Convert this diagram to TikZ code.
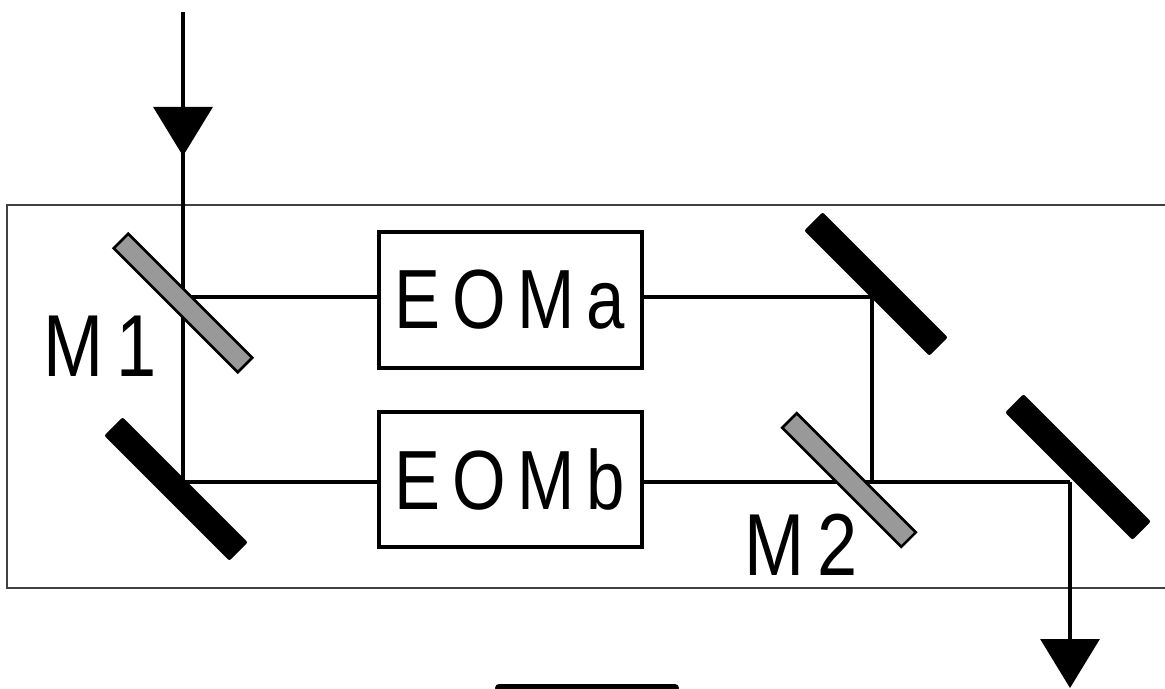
\documentclass[tikz,border=0pt]{standalone}
\usepackage{fontspec}
\newfontfamily\eomfont[FakeStretch=0.82,LetterSpace=14]{Liberation Sans}
\usetikzlibrary{arrows.meta,positioning,decorations.markings}
\definecolor{mirrorgray}{RGB}{153,153,153}
\tikzstyle{beam}=[line width=1.6pt]
\tikzstyle{frame}=[line width=0.8pt,draw=black!75]
\tikzstyle{head}=[-{Triangle[width=29.5pt,length=24.5pt]}]
\tikzstyle{eom}=[draw,line width=2pt,minimum width=131.5pt,minimum height=67.5pt,inner sep=0pt,
  font=\eomfont\fontsize{42pt}{42pt}\selectfont]
\tikzstyle{lbl}=[inner sep=0pt,font=\eomfont\fontsize{44pt}{44pt}\selectfont]
\tikzstyle{splitter}=[draw,line width=1.3pt,fill=mirrorgray,minimum width=87.7pt,minimum height=10.2pt,
  inner sep=0pt,rotate=-45]
\tikzstyle{mirror}=[fill=black,rounded corners=1pt,minimum width=88.5pt,minimum height=13pt,
  inner sep=0pt,rotate=-45]

\begin{document}
\begin{tikzpicture}[x=0.5pt,y=-0.5pt]
    \useasboundingbox (0,0) rectangle (1165,689);
    \draw[frame] (7,205) rectangle (1180,588);

    % beam corners
    \coordinate (in) at (183,12);
    \coordinate (s1) at (183,297);
    \coordinate (c1) at (183,482);
    \coordinate (c2) at (872,297);
    \coordinate (s2) at (872,482);
    \coordinate (c3) at (1070,482);
    \coordinate (out) at (1070,688);

    \node (EA) [eom] at (510,300) {EOMa};
    \node (EB) [eom, below=20pt of EA] {EOMb};

    \draw[beam, postaction={decorate}, decoration={markings,
        mark=at position 72pt with {\arrow{Triangle[width=29.5pt,length=24.5pt]}}}]
        (in) -- (s1) -- (c1) -- (c1 -| EB.west);
    \draw[beam] (s1) -- (s1 -| EA.west);
    \draw[beam] (c2 -| EA.east) -- (c2) -- (s2);
    \draw[beam] (s2 -| EB.east) -- (c3);
    \draw[beam, head] (c3) -- (out);

    \node (M1) [splitter] at (183,303) {};
    \node (M2) [splitter, minimum width=84.2pt] at (849,480) {};
    \node (Ma) [mirror] at (176,489) {};
    \node (Mb) [mirror] at (876,284) {};
    \node (Mc) [mirror, minimum width=90pt] at (1078,467) {};

    \node (L1) [lbl] at (100,346) {M1};
    \node (L2) [lbl] at (801,545) {M2};

    \draw[line width=4pt, line cap=round] (499,688) -- (675,688);
\end{tikzpicture}
\end{document}
